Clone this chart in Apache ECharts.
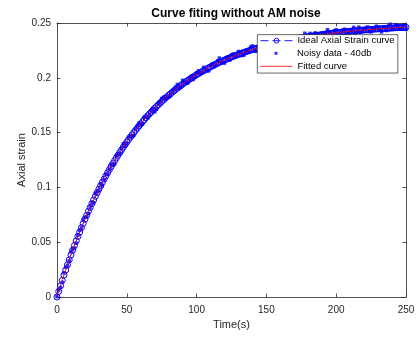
<!DOCTYPE html>
<html>
<head>
<meta charset="utf-8">
<script src="https://cdn.jsdelivr.net/npm/echarts@6/dist/echarts.min.js"></script>
<style>
html,body{margin:0;padding:0;background:#fff;}
#chart{width:418px;height:337px;}
</style>
</head>
<body>
<div id="chart"></div>
<script>
// Ideal axial strain curve, sampled every 1.25 s from 0 to 250 s
const idealStep = 1.25;
const idealStrain = [
0.0000,0.0051,0.0102,0.0151,0.0200,0.0247,0.0294,0.0339,0.0384,0.0427,
0.0470,0.0512,0.0553,0.0593,0.0633,0.0671,0.0709,0.0745,0.0782,0.0817,
0.0852,0.0886,0.0919,0.0951,0.0984,0.1015,0.1046,0.1075,0.1105,0.1133,
0.1162,0.1189,0.1217,0.1243,0.1269,0.1294,0.1319,0.1343,0.1367,0.1390,
0.1414,0.1436,0.1458,0.1479,0.1500,0.1521,0.1541,0.1561,0.1580,0.1599,
0.1618,0.1636,0.1654,0.1671,0.1688,0.1705,0.1722,0.1737,0.1753,0.1769,
0.1784,0.1798,0.1813,0.1827,0.1841,0.1854,0.1868,0.1881,0.1894,0.1906,
0.1918,0.1930,0.1942,0.1954,0.1965,0.1976,0.1987,0.1997,0.2008,0.2018,
0.2028,0.2037,0.2047,0.2056,0.2066,0.2074,0.2083,0.2092,0.2100,0.2108,
0.2117,0.2124,0.2132,0.2140,0.2147,0.2155,0.2162,0.2169,0.2176,0.2182,
0.2189,0.2195,0.2201,0.2208,0.2214,0.2219,0.2225,0.2231,0.2237,0.2242,
0.2247,0.2252,0.2258,0.2263,0.2268,0.2272,0.2277,0.2282,0.2286,0.2290,
0.2295,0.2299,0.2303,0.2307,0.2311,0.2315,0.2319,0.2323,0.2326,0.2330,
0.2333,0.2337,0.2340,0.2343,0.2347,0.2350,0.2353,0.2356,0.2359,0.2362,
0.2365,0.2367,0.2370,0.2373,0.2376,0.2378,0.2381,0.2383,0.2386,0.2388,
0.2390,0.2392,0.2395,0.2397,0.2399,0.2401,0.2403,0.2405,0.2407,0.2409,
0.2411,0.2413,0.2415,0.2416,0.2418,0.2420,0.2421,0.2423,0.2425,0.2426,
0.2428,0.2429,0.2431,0.2432,0.2433,0.2435,0.2436,0.2437,0.2439,0.2440,
0.2441,0.2442,0.2444,0.2445,0.2446,0.2447,0.2448,0.2449,0.2450,0.2451,
0.2452,0.2453,0.2454,0.2455,0.2456,0.2457,0.2458,0.2459,0.2460,0.2460,
0.2461];

// Noisy data (40 dB): set A at t = 0, 2.5, 5, ... ; set B at t = 1.25, 3.75, ...
const noisyStepA = 2.5, noisyStartA = 0;
const noisyStrainA = [0.0004,0.0087,0.0220,0.0288,0.0412,0.0446,0.0563,0.0630,0.0727,0.0762,
0.0859,0.0944,0.0973,0.1017,0.1119,0.1164,0.1200,0.1290,0.1311,0.1398,
0.1401,0.1464,0.1474,0.1557,0.1576,0.1641,0.1635,0.1697,0.1690,0.1765,
0.1811,0.1806,0.1823,0.1871,0.1916,0.1904,0.1977,0.1955,0.1988,0.1985,
0.2045,0.2042,0.2095,0.2062,0.2111,0.2101,0.2156,0.2145,0.2134,0.2189,
0.2208,0.2192,0.2240,0.2203,0.2241,0.2235,0.2291,0.2241,0.2285,0.2301,
0.2289,0.2283,0.2341,0.2304,0.2331,0.2354,0.2315,0.2357,0.2352,0.2377,
0.2352,0.2406,0.2368,0.2362,0.2410,0.2393,0.2365,0.2413,0.2412,0.2390,
0.2438,0.2404,0.2438,0.2397,0.2431,0.2460,0.2426,0.2417,0.2448,0.2464,
0.2420,0.2446,0.2463,0.2419,0.2461,0.2474,0.2445,0.2484,0.2444,0.2467,0.2443];
const noisyStepB = 2.5, noisyStartB = 1.25;
const noisyStrainB = [0.0063,0.0133,0.0272,0.0331,0.0432,0.0490,0.0608,0.0701,0.0733,0.0820,
0.0859,0.0960,0.1033,0.1070,0.1118,0.1211,0.1213,0.1301,0.1357,0.1380,
0.1456,0.1463,0.1529,0.1588,0.1578,0.1640,0.1662,0.1721,0.1712,0.1780,
0.1822,0.1821,0.1835,0.1894,0.1939,0.1916,0.1960,0.1953,0.2014,0.2014,
0.2063,0.2045,0.2076,0.2064,0.2127,0.2117,0.2180,0.2142,0.2179,0.2162,
0.2218,0.2205,0.2234,0.2207,0.2250,0.2281,0.2247,0.2277,0.2272,0.2311,
0.2273,0.2319,0.2313,0.2341,0.2311,0.2346,0.2368,0.2338,0.2359,0.2341,
0.2383,0.2365,0.2405,0.2368,0.2394,0.2368,0.2411,0.2439,0.2396,0.2429,
0.2396,0.2420,0.2443,0.2410,0.2437,0.2407,0.2462,0.2430,0.2454,0.2422,
0.2450,0.2471,0.2436,0.2462,0.2431,0.2488,0.2448,0.2476,0.2445,0.2482];

// Fitted curve, every 5 s
const fittedStep = 5;
const fittedStrain = [0,0.01999,0.03838,0.0553,0.07087,0.08519,0.09837,0.11049,0.12165,0.13191,
0.14135,0.15004,0.15803,0.16538,0.17215,0.17837,0.1841,0.18937,0.19422,0.19868,
0.20278,0.20656,0.21003,0.21323,0.21617,0.21887,0.22136,0.22365,0.22576,0.2277,
0.22948,0.23112,0.23263,0.23402,0.2353,0.23647,0.23755,0.23855,0.23946,0.24031,
0.24108,0.2418,0.24245,0.24306,0.24361,0.24412,0.24459,0.24502,0.24542,0.24579,0.24612];

const xTicks = [0,50,100,150,200,250];
const yTicks = [0,0.05,0.1,0.15,0.2,0.25];
const seriesNames = ['Ideal Axial Strain curve','Noisy data - 40db','Fitted curve'];
const titleText = 'Curve fiting without AM noise';
const xName = 'Time(s)';
const yName = 'Axial strain';

const idealData = idealStrain.map((v,i)=>[i*idealStep, v]);
const noisyData = noisyStrainA.map((v,i)=>[noisyStartA + i*noisyStepA, v])
  .concat(noisyStrainB.map((v,i)=>[noisyStartB + i*noisyStepB, v]));
const fittedData = fittedStrain.map((v,i)=>[i*fittedStep, v]);

const axisCol = '#262626';
const fontFam = 'Liberation Sans, Arial, Helvetica, sans-serif';

const chart = echarts.init(document.getElementById('chart'), null, {renderer:'canvas'});
const baseX = {
  type:'value', min:xTicks[0], max:xTicks[xTicks.length-1], interval:xTicks[1]-xTicks[0],
  axisLine:{show:true, onZero:false, lineStyle:{color:axisCol, width:0.8}},
  axisTick:{show:true, inside:true, length:3.5, lineStyle:{color:axisCol, width:0.8}},
  splitLine:{show:false}
};
const baseY = {
  type:'value', min:yTicks[0], max:yTicks[yTicks.length-1], interval:yTicks[1]-yTicks[0],
  axisLine:{show:true, onZero:false, lineStyle:{color:axisCol, width:0.8}},
  axisTick:{show:true, inside:true, length:3.5, lineStyle:{color:axisCol, width:0.8}},
  splitLine:{show:false}
};
const legendText = {fontSize:9.5, color:'#000', fontFamily:fontFam};
const legendCommon = {
  orient:'vertical', left:260, padding:0, itemWidth:32, selectedMode:false,
  textStyle:legendText, z:6
};
chart.setOption({
  animation:false,
  backgroundColor:'#fff',
  title:{
    text:titleText, left:231, top:3, textAlign:'center',
    textStyle:{fontSize:12, fontWeight:'bold', color:'#000', fontFamily:fontFam}
  },
  grid:{left:57, right:12, top:23, bottom:40, containLabel:false},
  graphic:[{
    type:'rect', left:257, top:34.3, z:5,
    shape:{width:140.5, height:38.4},
    style:{fill:'#fff', stroke:axisCol, lineWidth:0.7}
  }],
  legend:[
    Object.assign({}, legendCommon, {top:35.7, itemHeight:6,
      lineStyle:{width:0.9, type:[8,4]},
      itemStyle:{borderWidth:0.9},
      data:[{name:seriesNames[0]}]}),
    Object.assign({}, legendCommon, {top:48.3, left:274.5, itemWidth:3, itemHeight:3,
      textStyle:Object.assign({}, legendText, {padding:[0,0,0,14.5]}),
      data:[{name:seriesNames[1], icon:'rect'}]}),
    Object.assign({}, legendCommon, {top:61.3, itemHeight:7,
      lineStyle:{width:0.8},
      data:[{name:seriesNames[2], itemStyle:{opacity:0}}]})
  ],
  xAxis:[
    Object.assign({}, baseX, {position:'bottom',
      name:xName, nameLocation:'middle', nameGap:22,
      nameTextStyle:{fontSize:11, color:axisCol, fontFamily:fontFam},
      axisLabel:{show:true, fontSize:10, color:axisCol, fontFamily:fontFam, margin:8}}),
    Object.assign({}, baseX, {position:'top', axisLabel:{show:false}})
  ],
  yAxis:[
    Object.assign({}, baseY, {position:'left',
      name:yName, nameLocation:'middle', nameGap:29.5, nameMoveOverlap:false,
      nameTextStyle:{fontSize:11, color:axisCol, fontFamily:fontFam},
      axisLabel:{show:true, fontSize:10, color:axisCol, fontFamily:fontFam, margin:6,
        formatter:v=>String(+v.toFixed(2))}}),
    Object.assign({}, baseY, {position:'right', axisLabel:{show:false}})
  ],
  series:[
    {
      name:seriesNames[0], type:'line', data:idealData, xAxisIndex:0, yAxisIndex:0,
      symbol:'circle', symbolSize:6, showSymbol:true, showAllSymbol:true,
      lineStyle:{color:'#0000ff', width:0.8, type:'dashed'},
      itemStyle:{color:'rgba(0,0,0,0)', borderColor:'#0000ff', borderWidth:1},
      z:1
    },
    {
      name:seriesNames[1], type:'scatter', data:noisyData, xAxisIndex:0, yAxisIndex:0,
      symbol:'rect', symbolSize:3.5,
      itemStyle:{color:'#0000ff'},
      z:2
    },
    {
      name:seriesNames[2], type:'line', data:fittedData, xAxisIndex:0, yAxisIndex:0,
      symbol:'none', smooth:true,
      lineStyle:{color:'#ff0000', width:0.8},
      itemStyle:{color:'#ff0000'},
      z:3
    }
  ]
});
</script>
</body>
</html>
